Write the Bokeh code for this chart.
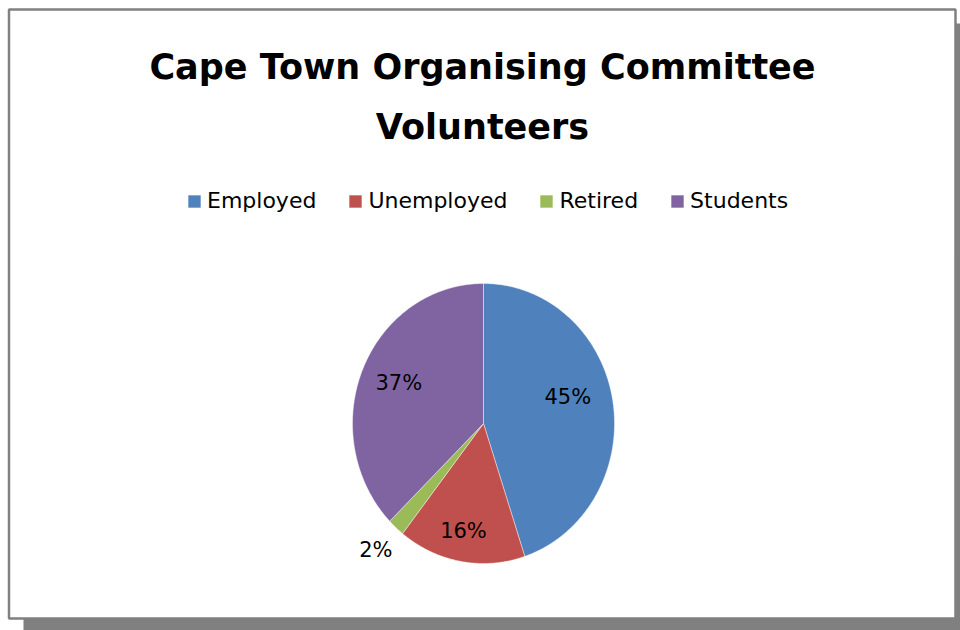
import numpy as np
from bokeh.plotting import figure
from bokeh.models import Range1d, ColumnDataSource, Legend, LegendItem
from bokeh.core.properties import value
from bokeh.embed import file_html
from bokeh.resources import INLINE

# ---- data ----
title_lines = ["Cape Town Organising Committee", "Volunteers"]
categories = ["Employed", "Unemployed", "Retired", "Students"]
shares = [44.9, 15.7, 2.1, 37.3]
colors = ["#4F81BD", "#C0504D", "#9BBB59", "#8064A2"]

# ---- layout (screen pixels) ----
W, H = 960, 630
CX, CY, RX, RY = 483, 423, 131, 140
label_r = [0.67, 0.78, 1.22, 0.71]
label_shift_deg = [-7.0, 1.4, 0.4, 1.5]

p = figure(width=W, height=H, x_range=Range1d(0, W), y_range=Range1d(H, 0),
           output_backend="svg", toolbar_location=None, min_border=0)
p.axis.visible = False
p.grid.visible = False
p.outline_line_color = None
p.background_fill_color = "white"
p.border_fill_color = "white"

# shadow and frame
p.quad(left=[23], right=[W], top=[23], bottom=[H], fill_color="#808080", line_color=None)
p.quad(left=[8.5], right=[955], top=[9], bottom=[618], fill_color="white",
       line_color="#808080", line_width=2.5)

# pie (elliptical, clockwise from 12 o'clock)
total = float(sum(shares))
fr = np.cumsum([0.0] + shares) / total
xs, ys = [], []
for a0, a1 in zip(fr[:-1], fr[1:]):
    n = int((a1 - a0) * 720) + 3
    t = np.linspace(a0, a1, n) * 2 * np.pi
    xs.append(np.concatenate([[CX], CX + RX * np.sin(t)]).tolist())
    ys.append(np.concatenate([[CY], CY - RY * np.cos(t)]).tolist())
src = ColumnDataSource(dict(xs=xs, ys=ys, color=colors, cat=categories))
r = p.patches("xs", "ys", source=src, fill_color="color", line_color="white",
              line_width=0.6, line_alpha=0.7)

# data labels
mid = ((fr[:-1] + fr[1:]) / 2 * 360 + np.array(label_shift_deg)) * np.pi / 180
lr = np.array(label_r)
lx = CX + RX * lr * np.sin(mid)
ly = CY - RY * lr * np.cos(mid)
p.text(x=lx.tolist(), y=ly.tolist(), text=[f"{round(s)}%" for s in shares],
       text_align="center", text_baseline="middle", text_font=value("DejaVu Sans"),
       text_font_size="21px", text_color="black")

# title
p.text(x=[482, 482], y=[66, 126], text=title_lines, text_align="center",
       text_baseline="alphabetic", text_font=value("DejaVu Sans"),
       text_font_style="bold", text_font_size="35px", text_color="black")

# legend
items = [LegendItem(label=c, renderers=[r], index=i) for i, c in enumerate(categories)]
leg = Legend(items=items, orientation="horizontal", location=(186, 417),
             glyph_width=16, glyph_height=16, label_standoff=5, spacing=31,
             padding=0, margin=0, border_line_color=None, background_fill_alpha=0,
             label_text_font="DejaVu Sans", label_text_font_size="22px",
             label_text_color="black")
p.add_layout(leg, "center")

open("out.html", "w").write(file_html(p, INLINE))
